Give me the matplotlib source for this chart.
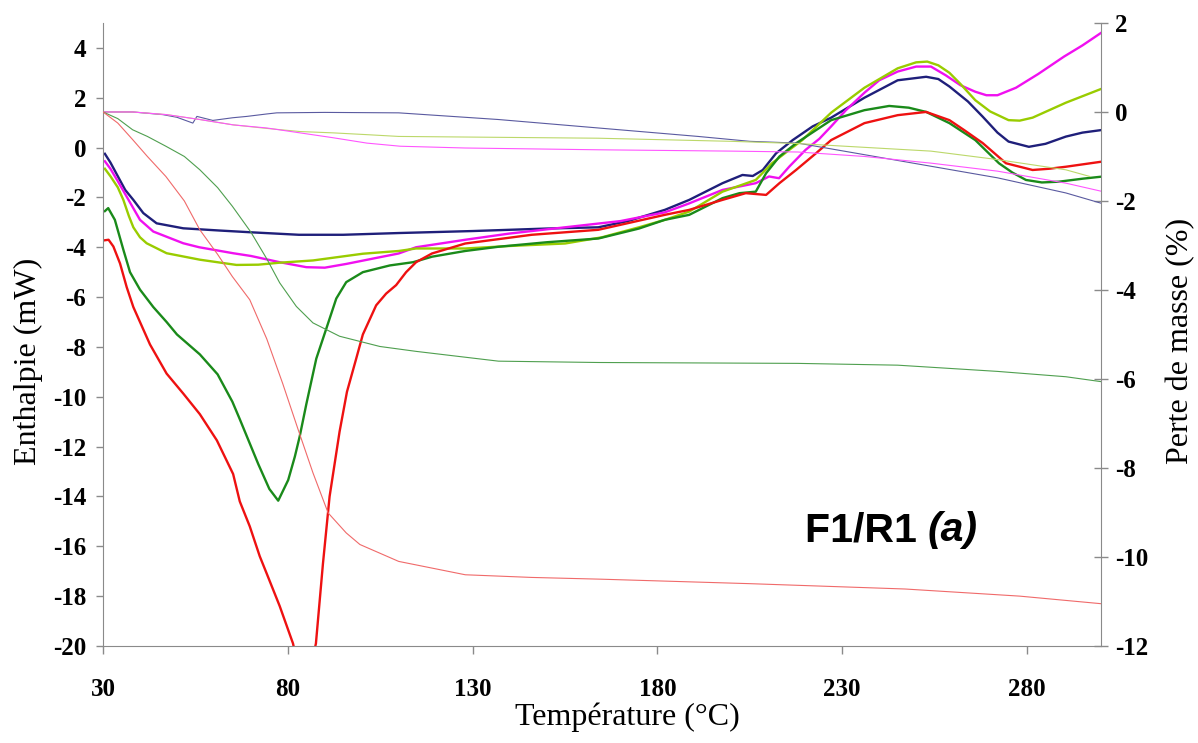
import matplotlib
matplotlib.use("Agg")
import matplotlib.pyplot as plt

# DSC curves (left axis, mW) -- temperature / enthalpy pairs
navy_T = [30.5, 32, 34, 36, 38.2, 40.9, 44.5, 51.7, 61.6, 70, 83, 95, 110, 130, 150,
          164, 172, 182, 188.6, 197.6, 203, 205.8, 208.5, 212.1, 216.6, 222, 227, 236,
          245, 252.7, 256, 259, 264, 268, 272, 275, 280.5, 285, 290.5, 295, 300]
navy_H = [-0.25, -0.6, -1.15, -1.7, -2.1, -2.63, -3.04, -3.24, -3.33, -3.4, -3.5, -3.5,
          -3.43, -3.35, -3.25, -3.2, -2.95, -2.5, -2.1, -1.43, -1.1, -1.14, -0.9, -0.23,
          0.3, 0.85, 1.2, 2.0, 2.7, 2.84, 2.75, 2.45, 1.85, 1.24, 0.6, 0.24, 0.03, 0.15,
          0.44, 0.6, 0.7]

magenta_T = [30.5, 32, 34, 36.9, 40, 43.6, 51.7, 56, 65.2, 70, 77.8, 85, 90, 95.8, 104.9,
             110, 114.7, 128, 140, 155, 170, 182, 188.6, 197.6, 206.6, 210.2, 212.9,
             215.7, 220.1, 223.8, 227, 231, 236, 240, 245, 250, 254, 258, 262, 266, 269,
             272, 277, 283, 290, 295, 300]
magenta_H = [-0.55, -0.85, -1.35, -2.1, -2.9, -3.37, -3.84, -4.0, -4.24, -4.35, -4.6,
             -4.8, -4.82, -4.67, -4.4, -4.25, -4.0, -3.7, -3.45, -3.2, -2.95, -2.6, -2.24,
             -1.7, -1.43, -1.16, -1.23, -0.76, -0.09, 0.35, 0.85, 1.5, 2.2, 2.7, 3.05,
             3.25, 3.25, 2.9, 2.5, 2.24, 2.1, 2.1, 2.4, 2.95, 3.65, 4.1, 4.6]

yg_T = [30.5, 32, 34, 35.5, 37, 38.2, 40, 41.8, 47.2, 56.2, 66.1, 72, 77.8, 86.8, 100.3,
        110, 114.7, 128, 140, 155, 165, 175, 182, 188.6, 197.6, 206.6, 211, 215.7, 219.2,
        227, 236, 245, 250, 253, 256, 259, 262, 266, 270, 275, 278, 281.5, 290.5, 300]
yg_H = [-0.85, -1.15, -1.6, -2.1, -2.75, -3.2, -3.6, -3.84, -4.24, -4.5, -4.71, -4.7,
        -4.62, -4.53, -4.26, -4.15, -4.05, -4.05, -3.95, -3.85, -3.6, -3.2, -2.9, -2.57,
        -1.77, -1.3, -0.63, -0.09, 0.3, 1.4, 2.4, 3.18, 3.42, 3.45, 3.3, 3.0, 2.55, 1.9,
        1.45, 1.1, 1.08, 1.2, 1.8, 2.35]

green_T = [30.5, 31.4, 33.2, 35.5, 37.3, 40, 43.6, 47.2, 50, 56.2, 61, 65, 67, 69.5, 72,
           75, 77.4, 80.1, 81.9, 83.2, 85, 87.7, 90.4, 93.1, 95.8, 100.3, 107.6, 113.9,
           119, 128, 137, 150, 164, 175, 182, 188.6, 197.6, 202.2, 206.6, 209.4, 213,
           217.5, 227, 236, 242.7, 248, 252.7, 259, 266, 272.4, 276, 279.7, 284, 288.6,
           295, 300]
green_H = [-2.55, -2.43, -2.9, -4.1, -5.0, -5.7, -6.4, -7.0, -7.5, -8.3, -9.1, -10.2,
           -10.9, -11.8, -12.7, -13.7, -14.17, -13.34, -12.4, -11.6, -10.3, -8.47, -7.27,
           -6.06, -5.4, -5.0, -4.73, -4.6, -4.38, -4.15, -3.98, -3.8, -3.65, -3.25, -2.9,
           -2.7, -2.03, -1.83, -1.77, -1.03, -0.36, 0.17, 1.1, 1.5, 1.67, 1.6, 1.43, 0.98,
           0.3, -0.63, -1.0, -1.3, -1.4, -1.37, -1.25, -1.17]

red_T = [30.5, 31.5, 32.8, 34.6, 36.4, 38.2, 40.9, 42.7, 47.2, 51.7, 56.2, 60.8, 65.2, 67,
         69.7, 72.4, 74.3, 77.8, 81.4, 84.5, 87.6, 89.5, 91.3, 94, 96, 98.5, 100.3, 103.9,
         106.6, 109.3, 112, 114.7, 119, 128, 146, 164, 182, 188.6, 197.6, 203.9, 209.4,
         213, 217.5, 222.9, 227, 236, 245, 252.7, 259, 263, 268, 274.3, 281.5, 286,
         290.5, 300]
red_H = [-3.72, -3.7, -3.97, -4.65, -5.6, -6.4, -7.3, -7.9, -9.07, -9.87, -10.7, -11.75,
         -13.1, -14.2, -15.2, -16.4, -17.1, -18.4, -19.9, -22.0, -19.9, -16.7, -14.0,
         -11.4, -9.8, -8.47, -7.5, -6.33, -5.86, -5.52, -5.0, -4.6, -4.25, -3.85, -3.5,
         -3.3, -2.7, -2.5, -2.1, -1.83, -1.9, -1.43, -0.9, -0.23, 0.3, 0.98, 1.3, 1.43,
         1.1, 0.7, 0.18, -0.63, -0.9, -0.85, -0.77, -0.57]

# TG curves (right axis, % mass loss)
navy_tg_T = [30, 38, 46.2, 50, 54.3, 55.4, 59.7, 65.1, 68.9, 74.3, 77, 90, 110, 137, 164,
             191, 205, 218, 236, 254, 272, 290.5, 300]
navy_tg = [0, 0, -0.06, -0.12, -0.25, -0.1, -0.19, -0.13, -0.1, -0.045, -0.02, -0.01,
           -0.02, -0.17, -0.36, -0.55, -0.66, -0.7, -0.96, -1.22, -1.48, -1.82, -2.05]

yg_tg_T = [30, 38, 47.2, 56.2, 65.2, 74.3, 83.3, 92.3, 101.4, 110, 164, 200, 218, 254,
           272, 290.5, 297]
yg_tg = [0, 0, -0.06, -0.17, -0.29, -0.37, -0.44, -0.47, -0.51, -0.55, -0.59, -0.66,
         -0.71, -0.88, -1.07, -1.3, -1.45]

magenta_tg_T = [30, 38, 47.2, 56.2, 65.2, 74.3, 83.3, 92.3, 101.4, 110.4, 128, 164, 200,
                218, 236, 254, 272, 290.5, 300]
magenta_tg = [0, 0, -0.06, -0.17, -0.29, -0.36, -0.47, -0.58, -0.7, -0.77, -0.81, -0.85,
              -0.88, -0.9, -1.0, -1.15, -1.33, -1.6, -1.78]

green_tg_T = [30, 34, 38, 42, 47, 52, 56.2, 61, 65, 70, 74.3, 77.8, 82.3, 86.8, 94,
              104.9, 114.7, 137, 164, 218, 245, 272, 290.5, 300]
green_tg = [0, -0.15, -0.4, -0.55, -0.77, -1.0, -1.3, -1.7, -2.12, -2.7, -3.3, -3.84,
            -4.37, -4.74, -5.04, -5.27, -5.38, -5.6, -5.63, -5.65, -5.69, -5.83, -5.95,
            -6.06]

red_tg_T = [30, 34, 38, 42, 47, 52, 56.2, 61, 65, 69.7, 74.3, 78.6, 82.8, 86.8, 90.9,
            95.8, 99.5, 110, 128, 146, 165, 205, 247, 278, 300]
red_tg = [0, -0.25, -0.62, -1.0, -1.45, -2.0, -2.65, -3.2, -3.7, -4.22, -5.1, -6.1,
          -7.14, -8.11, -9.01, -9.46, -9.72, -10.1, -10.4, -10.46, -10.5, -10.6, -10.72,
          -10.88, -11.05]

x_ticks = [30, 80, 130, 180, 230, 280]
left_ticks = list(range(-20, 5, 2))
right_ticks = list(range(-12, 3, 2))

plt.rcParams["font.family"] = "Liberation Serif"
plt.rcParams["axes.unicode_minus"] = False  # plain hyphen like the original

fig = plt.figure(figsize=(11.98, 7.43), dpi=100)
ax = fig.add_axes([0.086, 0.1306, 0.833, 0.8385])
ax2 = ax.twinx()

thick = 1.7
thin = 0.8
ax.plot(navy_T, navy_H, color="#1f1f7a", lw=thick)
ax.plot(magenta_T, magenta_H, color="#f010f0", lw=thick)
ax.plot(yg_T, yg_H, color="#99cc00", lw=thick)
ax.plot(green_T, green_H, color="#1a8a1a", lw=thick)
ax.plot(red_T, red_H, color="#ee1111", lw=thick)

ax2.plot(navy_tg_T, navy_tg, color="#5a5aa0", lw=thin)
ax2.plot(yg_tg_T, yg_tg, color="#bcd86a", lw=thin)
ax2.plot(magenta_tg_T, magenta_tg, color="#ff55ff", lw=thin)
ax2.plot(green_tg_T, green_tg, color="#4f9f4f", lw=thin)
ax2.plot(red_tg_T, red_tg, color="#f06a6a", lw=thin)

ax.set_xlim(30, 300)
ax.set_ylim(-20, 5)
ax2.set_ylim(-12, 2)
ax.set_xticks(x_ticks)
ax.set_yticks(left_ticks)
ax2.set_yticks(right_ticks)

spine_col = "#8a8a8a"
for a in (ax, ax2):
    a.spines["top"].set_visible(False)
    for s in a.spines.values():
        s.set_color(spine_col)
ax.spines["right"].set_visible(False)
ax2.spines["left"].set_visible(False)
ax2.spines["bottom"].set_visible(False)

ax.tick_params(axis="y", direction="out", length=5, width=1, color=spine_col, pad=7)
ax.tick_params(axis="x", direction="out", length=6, width=1, color=spine_col, pad=17)
ax2.tick_params(axis="y", direction="inout", length=10, width=1, color=spine_col, pad=5)
for lab in ax.get_xticklabels() + ax.get_yticklabels() + ax2.get_yticklabels():
    lab.set_fontsize(18)
    lab.set_fontweight("bold")

ax.set_xlabel("Température (°C)", fontsize=23)
ax.xaxis.set_label_coords(0.525, -0.09)
ax.set_ylabel("Enthalpie (mW)", fontsize=23)
ax.yaxis.set_label_coords(-0.06, 0.457)
ax2.set_ylabel("Perte de masse (%)", fontsize=23)
ax2.yaxis.set_label_coords(1.065, 0.49)

t1 = ax.text(0.703, 0.168, "F1/R1 ", transform=ax.transAxes, fontsize=29.5,
             fontweight="bold", family="Liberation Sans", va="baseline")
ax.annotate("(a)", xy=(1, 0), xycoords=t1, fontsize=29.5, fontweight="bold",
            fontstyle="italic", family="Liberation Sans", va="bottom", ha="left")

fig.savefig("out.png", dpi=100)
